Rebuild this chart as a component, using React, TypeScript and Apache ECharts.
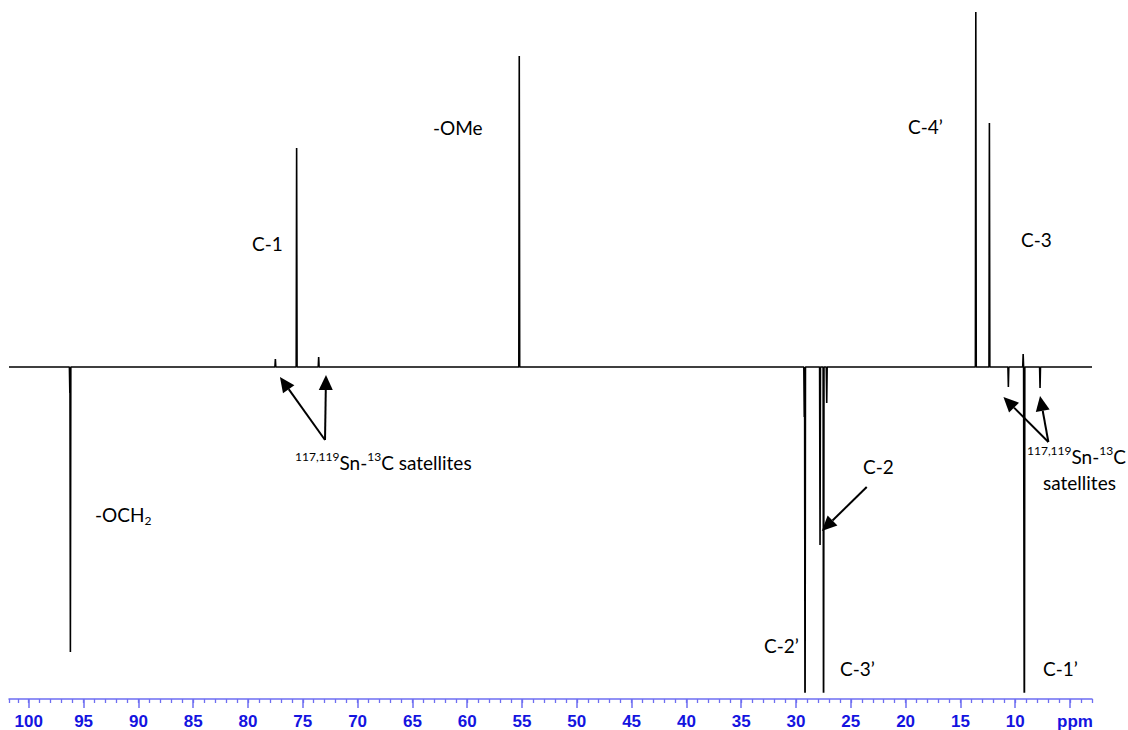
import { useEffect, useRef } from "react";
import * as echarts from "echarts";

// ---- axis ranges (ppm, inverted) and intensity window (arbitrary units) ----
const PPM_MIN = 3;
const PPM_MAX = 101.8;
const MAJOR_MIN = 5;
const MAJOR_MAX = 100;
const INT_MIN = -325;
const INT_MAX = 367;

// ---- peak list: shift (ppm) and signed intensity ----
const peakPpm = [96.25, 96.2, 77.5, 75.56, 73.55, 55.25, 29.25, 29.18, 27.81, 27.49, 27.2, 13.6, 12.36, 10.63, 9.28, 9.17, 7.74];
const peakIntensity = [-26, -285, 8, 219, 10, 311, -50, -420, -178, -420, -36, 355, 244, -20, 13, -420, -21];
const PEAK_HALF_WIDTH = 0.04;

// ---- annotation texts ----
const labelTexts = ["-OMe", "C-1", "C-4\u2019", "C-3", "C-2", "C-2\u2019", "C-3\u2019", "C-1\u2019"];
const labelPos = [
  [433, 127],
  [252, 243],
  [908, 126],
  [1021, 239],
  [863, 466],
  [764, 645],
  [840, 668],
  [1043, 668],
];

// ---- arrows (data coordinates: [ppm, intensity]) ----
const arrowTails = [
  [72.97, -73],
  [72.97, -73],
  [6.98, -75],
  [6.98, -75],
  [23.55, -120],
];
const arrowTips = [
  [77.08, -10],
  [72.88, -8],
  [11.08, -30],
  [7.74, -29],
  [27.65, -164],
];

const AXIS_COLOR = "#6e6ef2";
const LABEL_COLOR = "#1414e0";
const TEXT_FONT = "Lato";
const TEXT_SIZE = 19;
const SMALL_SIZE = 12;

function buildSpectrum(): number[][] {
  const pts: number[][] = [
    [PPM_MAX, 0],
    [PPM_MIN, 0],
  ];
  peakPpm.forEach((p, i) => {
    pts.push([p + PEAK_HALF_WIDTH, 0]);
    pts.push([p, peakIntensity[i]]);
    pts.push([p - PEAK_HALF_WIDTH, 0]);
  });
  pts.sort((a, b) => b[0] - a[0]);
  return pts;
}

export default function App() {
  const ref = useRef<HTMLDivElement>(null);

  useEffect(() => {
    if (!ref.current) return;
    const chart = echarts.init(ref.current, null, { renderer: "svg" });
    chart.setOption({
      animation: false,
      backgroundColor: "#ffffff",
      grid: [
        { left: 9, right: 36, top: 0, bottom: 38 },
        { left: 28.8, right: 58, top: 0, bottom: 38 },
      ],
      xAxis: [
        {
          gridIndex: 0,
          type: "value",
          min: PPM_MIN,
          max: PPM_MAX,
          interval: 1,
          inverse: true,
          position: "bottom",
          offset: 7,
          axisLine: { show: true, onZero: false, lineStyle: { color: AXIS_COLOR, width: 1.5 } },
          axisTick: { show: true, length: 4, lineStyle: { color: AXIS_COLOR, width: 1.3 } },
          axisLabel: { show: false },
          splitLine: { show: false },
        },
        {
          gridIndex: 1,
          type: "value",
          min: MAJOR_MIN,
          max: MAJOR_MAX,
          interval: 5,
          inverse: true,
          position: "bottom",
          offset: 7,
          axisLine: { show: false, onZero: false },
          axisTick: { show: true, length: 9, lineStyle: { color: AXIS_COLOR, width: 1.5 } },
          axisLabel: {
            show: true,
            margin: 14,
            color: LABEL_COLOR,
            fontSize: 17,
            fontWeight: "bold",
            fontFamily: "Liberation Sans",
            formatter: (v: number) => (v === 5 ? "{p|ppm}" : String(v)),
            rich: {
              p: {
                padding: [0, 0, 0, 10],
                color: LABEL_COLOR,
                fontSize: 17,
                fontWeight: "bold",
                fontFamily: "Liberation Sans",
              },
            },
          },
          splitLine: { show: false },
        },
      ],
      yAxis: [
        { gridIndex: 0, type: "value", min: INT_MIN, max: INT_MAX, show: false },
        { gridIndex: 1, type: "value", min: 0, max: 1, show: false },
      ],
      series: [
        {
          type: "line",
          xAxisIndex: 0,
          yAxisIndex: 0,
          data: buildSpectrum(),
          showSymbol: false,
          symbol: "none",
          clip: true,
          silent: true,
          lineStyle: { color: "#000000", width: 1.6 },
        },
      ],
    });

    const graphics: any[] = [];
    const toPx = (p: number[]) => chart.convertToPixel({ gridIndex: 0 }, p) as number[];

    arrowTails.forEach((tail, i) => {
      const a = toPx(tail);
      const t = toPx(arrowTips[i]);
      const dx = t[0] - a[0];
      const dy = t[1] - a[1];
      const len = Math.sqrt(dx * dx + dy * dy);
      const ux = dx / len;
      const uy = dy / len;
      const L = 15;
      const W = 7;
      const bx = t[0] - ux * L;
      const by = t[1] - uy * L;
      graphics.push({
        type: "line",
        shape: { x1: a[0], y1: a[1], x2: bx, y2: by },
        style: { stroke: "#000", lineWidth: 2 },
        silent: true,
      });
      graphics.push({
        type: "polygon",
        shape: {
          points: [
            [t[0], t[1]],
            [bx - uy * W, by + ux * W],
            [bx + uy * W, by - ux * W],
          ],
        },
        style: { fill: "#000" },
        silent: true,
      });
    });

    const baseText = { fill: "#000", fontSize: TEXT_SIZE, fontFamily: TEXT_FONT };
    labelTexts.forEach((t, i) => {
      graphics.push({
        type: "text",
        x: labelPos[i][0],
        y: labelPos[i][1],
        style: { ...baseText, text: t, align: "left", verticalAlign: "middle", textAlign: "left", textVerticalAlign: "middle" },
        silent: true,
      });
    });

    const rich = {
      n: { fontSize: TEXT_SIZE, fontFamily: TEXT_FONT, lineHeight: 24, fill: "#000", color: "#000" },
      sup: { fontSize: SMALL_SIZE, fontFamily: TEXT_FONT, lineHeight: 13, verticalAlign: "top", fill: "#000", color: "#000" },
      sub: { fontSize: SMALL_SIZE, fontFamily: TEXT_FONT, lineHeight: 13, verticalAlign: "bottom", fill: "#000", color: "#000" },
    };
    const richTexts = [
      { x: 95, y: 514, text: "{n|-OCH}{sub|2}" },
      { x: 295, y: 462, text: "{sup|117,119}{n|Sn-}{sup|13}{n|C satellites}" },
      { x: 1027, y: 456, text: "{sup|117,119}{n|Sn-}{sup|13}{n|C}" },
      { x: 1043, y: 482, text: "{n|satellites}" },
    ];
    richTexts.forEach((r) => {
      graphics.push({
        type: "text",
        x: r.x,
        y: r.y,
        style: { ...baseText, text: r.text, rich, align: "left", verticalAlign: "middle", textAlign: "left", textVerticalAlign: "middle" },
        silent: true,
      });
    });

    chart.setOption({ graphic: graphics });

    return () => chart.dispose();
  }, []);

  return (
    <div
      ref={ref}
      style={{ position: "fixed", left: 0, top: 0, width: 1128, height: 730, background: "#fff" }}
    />
  );
}
